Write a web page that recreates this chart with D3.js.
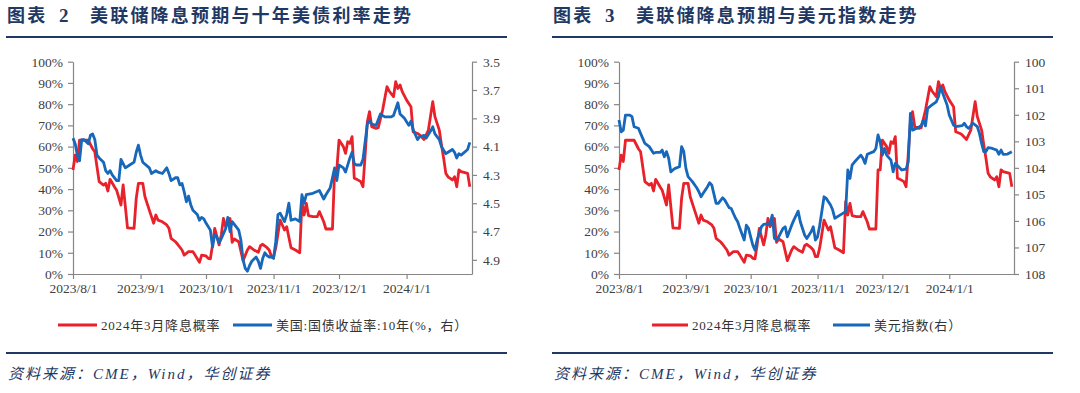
<!DOCTYPE html>
<html>
<head>
<meta charset="utf-8">
<script src="https://cdn.jsdelivr.net/npm/d3@7"></script>
<style>
  body { margin: 0; background: #fff; }
  svg { display: block; }
  .axis path, .axis line { stroke: #868686; stroke-width: 1.2px; }
  .axis text { font-family: 'Liberation Serif', serif; font-size: 13.5px; fill: #404040; }
  .title { font-family: 'Noto Sans CJK SC', sans-serif; font-weight: bold; font-size: 18px; fill: #1f3864; letter-spacing: 2.2px; }
  .title-num { font-family: 'Liberation Serif', serif; font-weight: bold; font-size: 19px; fill: #1f3864; }
  .legend text { font-family: 'Liberation Serif', 'Noto Sans CJK SC', serif; font-size: 13px; fill: #333; letter-spacing: 0.8px; }
  .source { font-family: 'Liberation Serif', 'Noto Sans CJK SC', serif; font-style: italic; font-size: 15px; fill: #1f3864; letter-spacing: 2px; }
</style>
</head>
<body>
<svg width="1080" height="393"></svg>
<script>
/* global d3:true */

// 2024年3月降息概率 (%)
const probDates = [
  '2023-08-01', '2023-08-02', '2023-08-03', '2023-08-04', '2023-08-08', '2023-08-10', '2023-08-11', '2023-08-12',
  '2023-08-13', '2023-08-15', '2023-08-16', '2023-08-17', '2023-08-18', '2023-08-20', '2023-08-21', '2023-08-23',
  '2023-08-24', '2023-08-26', '2023-08-29', '2023-08-30', '2023-08-31', '2023-09-02', '2023-09-03', '2023-09-05',
  '2023-09-07', '2023-09-08', '2023-09-09', '2023-09-11', '2023-09-13', '2023-09-14', '2023-09-15', '2023-09-17',
  '2023-09-18', '2023-09-20', '2023-09-21', '2023-09-23', '2023-09-25', '2023-09-26', '2023-09-28', '2023-09-29',
  '2023-10-01', '2023-10-02', '2023-10-03', '2023-10-04', '2023-10-05', '2023-10-07', '2023-10-08', '2023-10-09',
  '2023-10-10', '2023-10-12', '2023-10-13', '2023-10-14', '2023-10-16', '2023-10-18', '2023-10-20', '2023-10-21',
  '2023-10-23', '2023-10-25', '2023-10-26', '2023-10-27', '2023-10-29', '2023-10-30', '2023-10-31', '2023-11-01',
  '2023-11-02', '2023-11-04', '2023-11-05', '2023-11-06', '2023-11-07', '2023-11-09', '2023-11-11', '2023-11-13',
  '2023-11-14', '2023-11-15', '2023-11-16', '2023-11-17', '2023-11-19', '2023-11-21', '2023-11-22', '2023-11-24',
  '2023-11-25', '2023-11-28', '2023-11-29', '2023-11-30', '2023-12-01', '2023-12-03', '2023-12-04', '2023-12-05',
  '2023-12-06', '2023-12-07', '2023-12-08', '2023-12-09', '2023-12-11', '2023-12-12', '2023-12-14', '2023-12-15',
  '2023-12-16', '2023-12-18', '2023-12-19', '2023-12-21', '2023-12-23', '2023-12-24', '2023-12-26', '2023-12-27',
  '2023-12-28', '2023-12-29', '2023-12-30', '2024-01-01', '2024-01-03', '2024-01-04', '2024-01-06', '2024-01-07',
  '2024-01-09', '2024-01-11', '2024-01-13', '2024-01-14', '2024-01-16', '2024-01-17', '2024-01-18', '2024-01-19',
  '2024-01-20', '2024-01-22', '2024-01-23', '2024-01-24', '2024-01-25', '2024-01-26', '2024-01-29', '2024-01-30'
]
const probValues = [
  49, 56, 53, 63, 63, 59, 57.6, 50.5,
  43.5, 41.9, 42.7, 39.1, 44.6, 41.1, 39.5, 32.5,
  42, 21.7, 21.5, 35.6, 42.7, 42.7, 36.4, 30.1,
  23.9, 27.8, 25.4, 24.6, 23.1, 21.5, 16.8, 15.2,
  14, 11.3, 8.9, 10.5, 10.5, 8.9, 5.5, 8.9,
  8.5, 7.4, 7.1, 13.7, 21.5, 13.7, 18.4, 26.2,
  22.3, 26.2, 14.9, 16.5, 15.2, 6.3, 11.3, 12.9,
  11.3, 10.2, 13.3, 14, 12.4, 11.3, 8.2, 8.2,
  12.4, 25.4, 23.1, 20.7, 22.3, 12.4, 11.3, 10,
  34.1, 27.8, 33.3, 27.5, 27, 27, 29.4, 24.6,
  21.2, 21.2, 49, 49, 63.1, 60, 56.8, 62.3,
  61.5, 64.7, 45.1, 44.7, 43.5, 41.1, 71.7, 76.5,
  69.4, 68.6, 68.9, 77.2, 88.2, 86.2, 83.5, 90.6,
  87.4, 89, 85.9, 81.9, 78.8, 67, 66.2, 65.5,
  63.4, 67.8, 81.2, 74.1, 67.8, 60.8, 54.5, 47.4,
  45.8, 44.3, 45.8, 41.1, 49, 48.2, 47.4, 41.1
]

// 美国:国债收益率:10年 (%)
const ustDates = [
  '2023-08-01', '2023-08-02', '2023-08-03', '2023-08-04', '2023-08-05', '2023-08-06', '2023-08-08', '2023-08-09',
  '2023-08-10', '2023-08-11', '2023-08-12', '2023-08-13', '2023-08-15', '2023-08-16', '2023-08-17', '2023-08-18',
  '2023-08-19', '2023-08-21', '2023-08-22', '2023-08-23', '2023-08-25', '2023-08-27', '2023-08-29', '2023-08-30',
  '2023-08-31', '2023-09-01', '2023-09-02', '2023-09-05', '2023-09-06', '2023-09-08', '2023-09-09', '2023-09-11',
  '2023-09-13', '2023-09-14', '2023-09-15', '2023-09-17', '2023-09-18', '2023-09-19', '2023-09-20', '2023-09-21',
  '2023-09-22', '2023-09-23', '2023-09-24', '2023-09-25', '2023-09-27', '2023-09-28', '2023-09-29', '2023-09-30',
  '2023-10-01', '2023-10-03', '2023-10-04', '2023-10-05', '2023-10-06', '2023-10-07', '2023-10-08', '2023-10-10',
  '2023-10-11', '2023-10-12', '2023-10-13', '2023-10-14', '2023-10-16', '2023-10-17', '2023-10-18', '2023-10-19',
  '2023-10-20', '2023-10-21', '2023-10-22', '2023-10-24', '2023-10-25', '2023-10-26', '2023-10-27', '2023-10-28',
  '2023-10-29', '2023-10-30', '2023-10-31', '2023-11-01', '2023-11-02', '2023-11-03', '2023-11-04', '2023-11-06',
  '2023-11-07', '2023-11-08', '2023-11-09', '2023-11-11', '2023-11-13', '2023-11-14', '2023-11-15', '2023-11-16',
  '2023-11-19', '2023-11-22', '2023-11-23', '2023-11-24', '2023-11-25', '2023-11-27', '2023-11-28', '2023-11-29',
  '2023-11-30', '2023-12-01', '2023-12-03', '2023-12-04', '2023-12-06', '2023-12-07', '2023-12-08', '2023-12-09',
  '2023-12-11', '2023-12-12', '2023-12-14', '2023-12-15', '2023-12-16', '2023-12-18', '2023-12-19', '2023-12-20',
  '2023-12-22', '2023-12-25', '2023-12-26', '2023-12-28', '2023-12-29', '2023-12-31', '2024-01-02', '2024-01-03',
  '2024-01-04', '2024-01-06', '2024-01-07', '2024-01-09', '2024-01-10', '2024-01-12', '2024-01-13', '2024-01-14',
  '2024-01-16', '2024-01-17', '2024-01-19', '2024-01-20', '2024-01-22', '2024-01-23', '2024-01-24', '2024-01-25',
  '2024-01-26', '2024-01-29', '2024-01-30'
]
const ustValues = [
  4.04, 4.08, 4.16, 4.2, 4.05, 4.05, 4.08, 4.02,
  4.01, 4.05, 4.16, 4.18, 4.21, 4.27, 4.29, 4.27,
  4.3, 4.34, 4.34, 4.19, 4.25, 4.23, 4.21, 4.14,
  4.09, 4.16, 4.21, 4.25, 4.29, 4.27, 4.28, 4.29,
  4.25, 4.29, 4.34, 4.32, 4.32, 4.37, 4.36, 4.42,
  4.49, 4.45, 4.51, 4.55, 4.58, 4.62, 4.6, 4.61,
  4.64, 4.69, 4.81, 4.72, 4.74, 4.78, 4.75, 4.68,
  4.6, 4.7, 4.63, 4.65, 4.69, 4.76, 4.9, 4.96,
  4.98, 4.94, 4.91, 4.88, 4.91, 4.96, 4.89, 4.85,
  4.87, 4.88, 4.88, 4.89, 4.77, 4.58, 4.57, 4.63,
  4.58, 4.5, 4.62, 4.61, 4.63, 4.44, 4.5, 4.44,
  4.43, 4.41, 4.44, 4.47, 4.44, 4.39, 4.32, 4.25,
  4.34, 4.23, 4.25, 4.28, 4.18, 4.14, 4.22, 4.23,
  4.23, 4.19, 3.94, 3.92, 3.94, 3.95, 3.91, 3.87,
  3.89, 3.89, 3.88, 3.79, 3.87, 3.9, 3.95, 3.92,
  3.98, 4.05, 4.03, 4.02, 4.04, 3.99, 3.96, 4.01,
  4.05, 4.1, 4.15, 4.14, 4.12, 4.14, 4.18, 4.15,
  4.16, 4.12, 4.07
]

// 美元指数
const dxyDates = [
  '2023-08-01', '2023-08-02', '2023-08-03', '2023-08-04', '2023-08-06', '2023-08-07', '2023-08-08', '2023-08-10',
  '2023-08-11', '2023-08-12', '2023-08-13', '2023-08-15', '2023-08-17', '2023-08-18', '2023-08-20', '2023-08-21',
  '2023-08-22', '2023-08-23', '2023-08-24', '2023-08-25', '2023-08-26', '2023-08-27', '2023-08-29', '2023-08-30',
  '2023-08-31', '2023-09-01', '2023-09-02', '2023-09-04', '2023-09-06', '2023-09-07', '2023-09-08', '2023-09-09',
  '2023-09-11', '2023-09-12', '2023-09-13', '2023-09-15', '2023-09-16', '2023-09-18', '2023-09-19', '2023-09-21',
  '2023-09-22', '2023-09-23', '2023-09-24', '2023-09-25', '2023-09-26', '2023-09-28', '2023-09-29', '2023-09-30',
  '2023-10-01', '2023-10-02', '2023-10-03', '2023-10-04', '2023-10-06', '2023-10-07', '2023-10-10', '2023-10-11',
  '2023-10-12', '2023-10-13', '2023-10-14', '2023-10-16', '2023-10-17', '2023-10-18', '2023-10-20', '2023-10-21',
  '2023-10-23', '2023-10-24', '2023-10-26', '2023-10-27', '2023-10-29', '2023-10-30', '2023-10-31', '2023-11-01',
  '2023-11-02', '2023-11-04', '2023-11-05', '2023-11-07', '2023-11-08', '2023-11-09', '2023-11-11', '2023-11-14',
  '2023-11-15', '2023-11-16', '2023-11-17', '2023-11-18', '2023-11-21', '2023-11-22', '2023-11-23', '2023-11-24',
  '2023-11-27', '2023-11-28', '2023-11-29', '2023-11-30', '2023-12-01', '2023-12-02', '2023-12-03', '2023-12-05',
  '2023-12-06', '2023-12-07', '2023-12-10', '2023-12-12', '2023-12-13', '2023-12-14', '2023-12-15', '2023-12-17',
  '2023-12-19', '2023-12-20', '2023-12-21', '2023-12-22', '2023-12-24', '2023-12-26', '2023-12-27', '2023-12-28',
  '2023-12-29', '2023-12-31', '2024-01-01', '2024-01-03', '2024-01-04', '2024-01-07', '2024-01-08', '2024-01-09',
  '2024-01-10', '2024-01-12', '2024-01-14', '2024-01-15', '2024-01-16', '2024-01-17', '2024-01-18', '2024-01-19',
  '2024-01-21', '2024-01-23', '2024-01-24', '2024-01-25', '2024-01-26', '2024-01-28', '2024-01-30'
]
const dxyValues = [
  102.2, 102.64, 102.58, 102.01, 102.01, 102.07, 102.45, 102.51,
  102.7, 102.89, 103.08, 103.2, 103.45, 103.42, 103.42, 103.33,
  103.58, 103.39, 103.64, 104.15, 104.08, 104.02, 103.96, 103.2,
  103.39, 104.02, 104.33, 104.52, 104.75, 104.9, 105.09, 104.96,
  104.71, 104.56, 104.65, 105.34, 105.34, 105.13, 105.21, 105.5,
  105.53, 105.72, 105.9, 106.03, 106.28, 106.72, 106.16, 106.28,
  106.6, 106.91, 107.1, 106.72, 106.22, 106.13, 106.09, 105.78,
  106.66, 106.72, 106.6, 106.28, 106.22, 106.6, 106.16, 105.97,
  105.63, 106.03, 106.53, 106.66, 106.41, 106.22, 106.72, 106.6,
  106.16, 105.09, 105.15, 105.4, 105.59, 105.9, 105.8, 105.65,
  104.08, 104.4, 103.89, 103.79, 103.52, 103.64, 103.83, 103.49,
  103.39, 103.27, 102.76, 103.02, 103.52, 103.27, 103.52, 103.71,
  104.15, 103.83, 104.08, 104.05, 103.77, 101.95, 102.58, 102.51,
  102.41, 102.2, 102.42, 101.76, 101.63, 101.51, 101.32, 100.94,
  101.19, 101.63, 102.01, 102.39, 102.45, 102.41, 102.32, 102.45,
  102.51, 102.32, 102.45, 102.7, 103.08, 103.39, 103.39, 103.24,
  103.27, 103.33, 103.49, 103.33, 103.49, 103.48, 103.39
]

// axis ticks
const monthTicks = ['2023-08-01', '2023-09-01', '2023-10-01', '2023-11-01', '2023-12-01', '2024-01-01']
const pctTicks = [0, 10, 20, 30, 40, 50, 60, 70, 80, 90, 100]
const ustTicks = [3.5, 3.7, 3.9, 4.1, 4.3, 4.5, 4.7, 4.9]
const dxyTicks = [100, 101, 102, 103, 104, 105, 106, 107, 108]

const parseDate = d3.timeParse('%Y-%m-%d')
const zip = (dates, values) => dates.map((d, i) => ({ date: parseDate(d), value: values[i] }))

const RED = '#e8212b'
const BLUE = '#1767ba'
const NAVY = '#1f3864'

const svg = d3.select('svg')

const panel = (cfg) => {
  const { left, right, plotLeft, plotRight, num, title, rightDomain, rightTicks, rightFormat, series, legend } = cfg
  const top = 61.7
  const bottom = 274

  // header
  svg.append('text').attr('class', 'title').attr('x', left + 1).attr('y', 22).text('图表')
  svg.append('text').attr('class', 'title-num').attr('x', left + 53).attr('y', 22).text(num)
  svg.append('text').attr('class', 'title').attr('x', left + 84).attr('y', 22).text(title)
  svg.append('line')
    .attr('x1', left).attr('x2', right).attr('y1', 37).attr('y2', 37)
    .attr('stroke', NAVY).attr('stroke-width', 2.2)

  const x = d3.scaleTime()
    .domain([parseDate('2023-08-01'), parseDate('2024-01-31')])
    .range([plotLeft, plotRight])
  const y = d3.scaleLinear().domain([0, 100]).range([bottom, top])
  const yR = d3.scaleLinear().domain(rightDomain).range([top, bottom])

  svg.append('g')
    .attr('class', 'axis')
    .attr('transform', 'translate(0,' + bottom + ')')
    .call(d3.axisBottom(x).tickValues(monthTicks.map(parseDate))
      .tickFormat(d3.timeFormat('%Y/%-m/%-d')).tickSize(5).tickPadding(4).tickSizeOuter(0))

  svg.append('g')
    .attr('class', 'axis')
    .attr('transform', 'translate(' + plotLeft + ',0)')
    .call(d3.axisLeft(y).tickValues(pctTicks).tickFormat((d) => d + '%')
      .tickSize(5).tickPadding(5).tickSizeOuter(0))

  svg.append('g')
    .attr('class', 'axis')
    .attr('transform', 'translate(' + plotRight + ',0)')
    .call(d3.axisRight(yR).tickValues(rightTicks).tickFormat(rightFormat)
      .tickSize(5).tickPadding(6).tickSizeOuter(0))

  const lineL = d3.line().x((d) => x(d.date)).y((d) => y(d.value))
  const lineR = d3.line().x((d) => x(d.date)).y((d) => yR(d.value))

  svg.append('path')
    .datum(series[0])
    .attr('fill', 'none')
    .attr('stroke', RED)
    .attr('stroke-width', 2.8)
    .attr('stroke-linejoin', 'round')
    .attr('d', lineL)

  svg.append('path')
    .datum(series[1])
    .attr('fill', 'none')
    .attr('stroke', BLUE)
    .attr('stroke-width', 2.8)
    .attr('stroke-linejoin', 'round')
    .attr('d', lineR)

  // legend
  const lg = svg.append('g').attr('class', 'legend')
  legend.forEach((item) => {
    lg.append('line')
      .attr('x1', item.x).attr('x2', item.x + item.len)
      .attr('y1', 325).attr('y2', 325)
      .attr('stroke', item.color).attr('stroke-width', 3)
    lg.append('text')
      .attr('x', item.x + item.len + 4).attr('y', 330)
      .text(item.label)
  })

  // footer
  svg.append('line')
    .attr('x1', left).attr('x2', right).attr('y1', 353).attr('y2', 353)
    .attr('stroke', NAVY).attr('stroke-width', 2.2)
  svg.append('text').attr('class', 'source').attr('x', left + 2).attr('y', 379)
    .text('资料来源：CME，Wind，华创证券')
}

const prob = zip(probDates, probValues)

panel({
  left: 6,
  right: 507,
  plotLeft: 73,
  plotRight: 472,
  num: '2',
  title: '美联储降息预期与十年美债利率走势',
  rightDomain: [3.5, 5.0],
  rightTicks: ustTicks,
  rightFormat: d3.format('.1f'),
  series: [prob, zip(ustDates, ustValues)],
  legend: [
    { x: 58, len: 39, color: RED, label: '2024年3月降息概率' },
    { x: 233, len: 39, color: BLUE, label: '美国:国债收益率:10年(%，右）' }
  ]
})

panel({
  left: 552,
  right: 1053,
  plotLeft: 619,
  plotRight: 1014,
  num: '3',
  title: '美联储降息预期与美元指数走势',
  rightDomain: [100, 108],
  rightTicks: dxyTicks,
  rightFormat: d3.format('d'),
  series: [prob, zip(dxyDates, dxyValues)],
  legend: [
    { x: 652, len: 36, color: RED, label: '2024年3月降息概率' },
    { x: 833, len: 37, color: BLUE, label: '美元指数(右）' }
  ]
})
</script>
</body>
</html>
